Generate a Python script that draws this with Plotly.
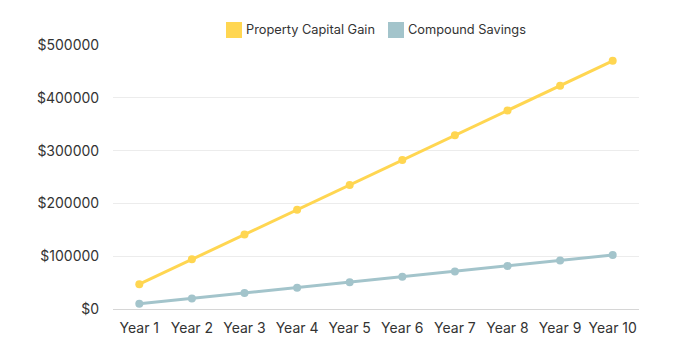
import plotly.graph_objects as go

years = ["Year 1", "Year 2", "Year 3", "Year 4", "Year 5",
         "Year 6", "Year 7", "Year 8", "Year 9", "Year 10"]
property_gain = [47000, 94000, 141000, 188000, 235000,
                 282000, 329000, 376000, 423000, 470000]
compound_savings = [10000, 20100, 30300, 40400, 50600,
                    60900, 71100, 81500, 91800, 102200]
y_ticks = [0, 100000, 200000, 300000, 400000, 500000]
y_tick_labels = ["$0", "$100000", "$200000", "$300000", "$400000", "$500000"]
series_names = ["Property Capital Gain", "Compound Savings"]

YELLOW = "#FFD651"
BLUE = "#A3C4CB"
FONT = "Inter"
TXT = "#333333"

W, H = 700, 343
ML, MR, MT, MB = 113, 61, 45, 34
PW, PH = W - ML - MR, H - MT - MB


def px_x(px):
    return (px - ML) / PW


def px_y(py):
    return (H - MB - py) / PH


fig = go.Figure()
for name, vals, col in [(series_names[0], property_gain, YELLOW),
                        (series_names[1], compound_savings, BLUE)]:
    fig.add_trace(go.Scatter(
        x=years, y=vals, mode="lines+markers", name=name,
        line=dict(color=col, width=3),
        marker=dict(color=col, size=8),
        cliponaxis=False, showlegend=False,
    ))

# custom legend (square swatches + labels), laid out like the reference
legend_items = [(series_names[0], YELLOW, 226), (series_names[1], BLUE, 388)]
for name, col, x0 in legend_items:
    fig.add_shape(type="rect", xref="paper", yref="paper",
                  x0=px_x(x0), x1=px_x(x0 + 16), y0=px_y(38), y1=px_y(22),
                  fillcolor=col, line=dict(width=0))
    fig.add_annotation(xref="paper", yref="paper", x=px_x(x0 + 18), y=px_y(30),
                       xanchor="left", yanchor="middle", showarrow=False,
                       text=name, font=dict(family=FONT, size=12.8, color=TXT))

fig.update_layout(
    width=W, height=H,
    margin=dict(l=ML, r=MR, t=MT, b=MB, autoexpand=False),
    paper_bgcolor="white", plot_bgcolor="white",
    font=dict(family=FONT, size=14, color=TXT),
    showlegend=False,
)
fig.update_xaxes(
    type="category", range=[-0.5, 9.5], showgrid=False,
    showline=True, linecolor="#d6d6d6", linewidth=1,
    ticks="outside", ticklen=6, tickcolor="rgba(0,0,0,0)",
    tickfont=dict(family=FONT, size=14, color=TXT),
    fixedrange=True,
)
fig.update_yaxes(
    range=[0, 500000], tickvals=y_ticks, ticktext=y_tick_labels,
    showgrid=True, gridcolor="#ececec", gridwidth=1, zeroline=False,
    ticks="outside", ticklen=10, tickcolor="rgba(0,0,0,0)",
    tickfont=dict(family=FONT, size=14, color=TXT),
    fixedrange=True,
)

fig.write_html("out.html")
